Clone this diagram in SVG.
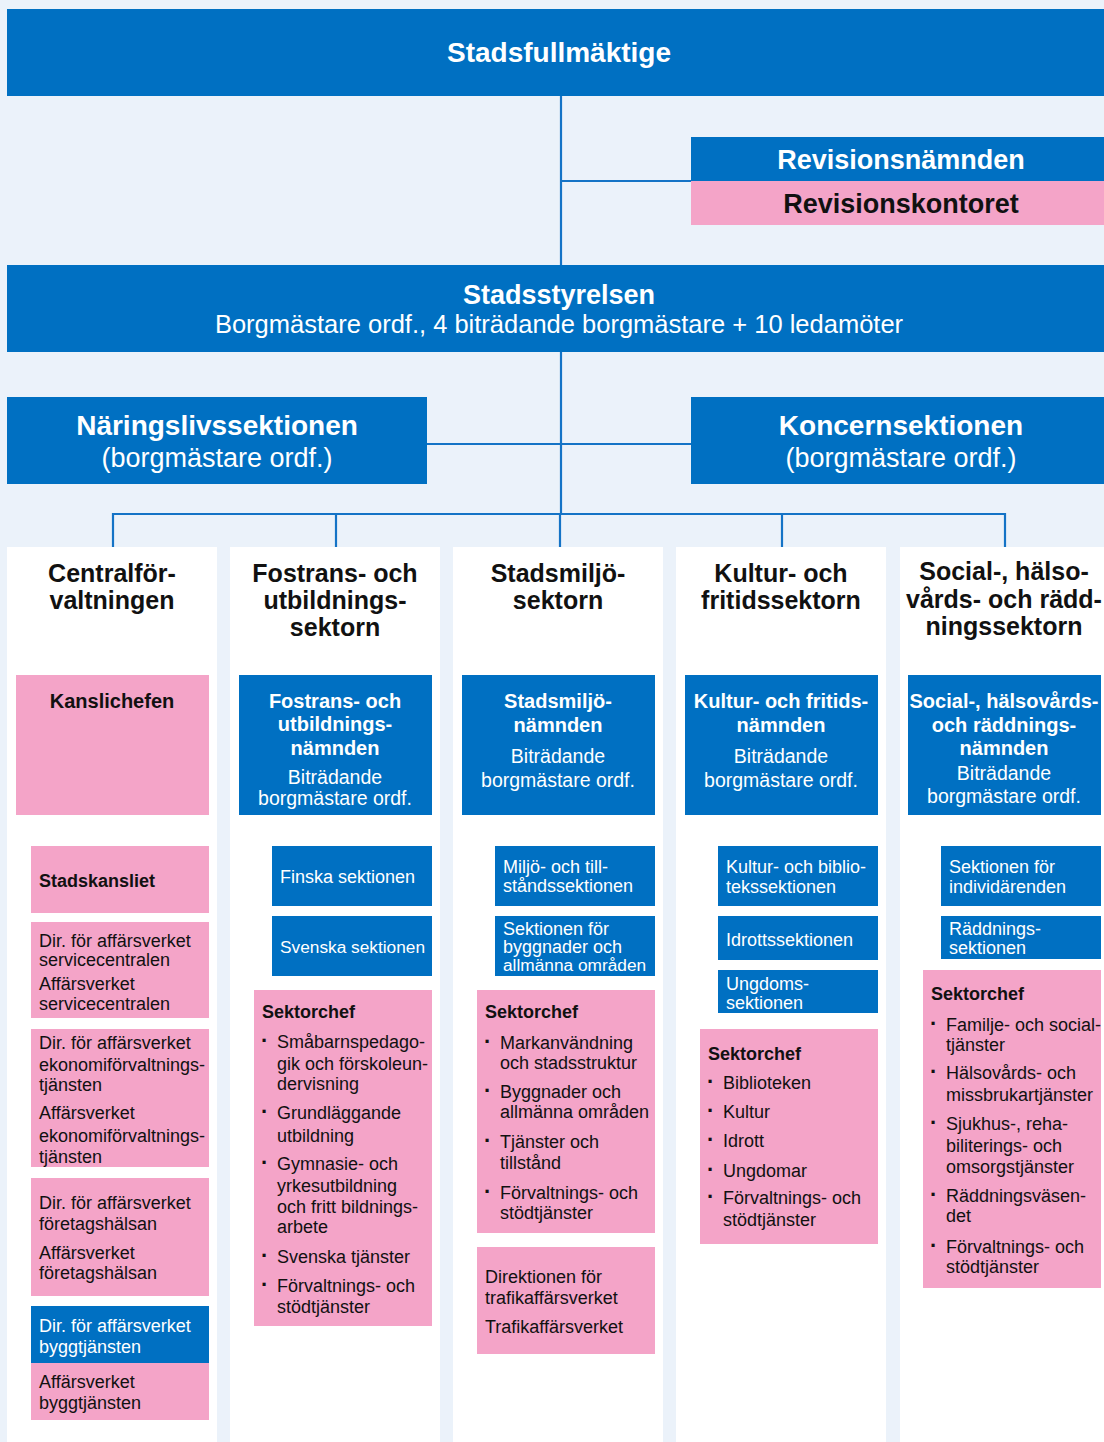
<svg xmlns="http://www.w3.org/2000/svg" width="1104" height="1442" viewBox="0 0 1104 1442">
<style>
text{font-family:"Liberation Sans",Arial,sans-serif}
.blue{fill:#0070C2}
.pink{fill:#F4A4C8}
.panel{fill:#FFFFFF}
.w{fill:#FFFFFF}
.k{fill:#111111}
.b{font-weight:bold}
.c{text-anchor:middle}
.h1{font-size:27px}
.h2{font-size:28px}
.ct{font-size:25px;font-weight:bold;fill:#111111;text-anchor:middle}
.nb{font-size:20px;font-weight:bold;fill:#FFFFFF;text-anchor:middle}
.nr{font-size:19.5px;fill:#FFFFFF;text-anchor:middle}
.t{font-size:18px}
.sb{font-size:18px;font-weight:bold;fill:#111111}
.dot{font-size:22px;font-weight:bold}
.conn{fill:none;stroke:#1473C6;stroke-width:2.2}
</style>
<rect x="0" y="0" width="1104" height="1442" fill="#EBF2FA"/>

<g id="connectors" class="conn">
<path d="M561 96 V265 M561 181 H691 M561 352 V514 M427 444 H691 M113 547 V514 H1005 V547 M336 514 V547 M560 514 V547 M782 514 V547"/>
<path d="M17 815 V1363 H31 M17 880 H31 M17 971 H31 M17 1088 H31 M17 1237 H31"/>
<path d="M241 815 V1021 H254 M258 815 V945 H272 M258 876 H272"/>
<path d="M463 815 V1295 H477 M463 1021 H477 M481 815 V945 H495 M481 874 H495"/>
<path d="M687 815 V1057 H700 M706 815 V992 H718 M706 874 H718 M706 937 H718"/>
<path d="M909 815 V990 H923 M929 815 V937 H941 M929 874 H941"/>
</g>

<g id="stadsfullmaktige">
<rect class="blue" x="7" y="9" width="1097" height="87"/>
<text class="w b c" x="559" y="62" font-size="28">Stadsfullmäktige</text>
</g>
<g id="revisionsnamnden">
<rect class="blue" x="691" y="137" width="413" height="44"/>
<text class="w b h1 c" x="901" y="169">Revisionsnämnden</text>
</g>
<g id="revisionskontoret">
<rect class="pink" x="691" y="181" width="413" height="44"/>
<text class="k b h1 c" x="901" y="213">Revisionskontoret</text>
</g>
<g id="stadsstyrelsen">
<rect class="blue" x="7" y="265" width="1097" height="87"/>
<text class="w b h1 c" x="559" y="304">Stadsstyrelsen</text>
<text class="w c" x="559" y="333" font-size="25.5">Borgmästare ordf., 4 biträdande borgmästare + 10 ledamöter</text>
</g>
<g id="naringslivssektionen">
<rect class="blue" x="7" y="397" width="420" height="87"/>
<text class="w b h2 c" x="217" y="435">Näringslivssektionen</text>
<text class="w c" x="217" y="467" font-size="27">(borgmästare ordf.)</text>
</g>
<g id="koncernsektionen">
<rect class="blue" x="691" y="397" width="413" height="87"/>
<text class="w b h2 c" x="901" y="435">Koncernsektionen</text>
<text class="w c" x="901" y="467" font-size="27">(borgmästare ordf.)</text>
</g>

<!-- Column 1 -->
<g id="col-centralforvaltningen">
<rect class="panel" x="7" y="547" width="210" height="895"/>
<text class="ct" x="112" y="582">Centralför-</text>
<text class="ct" x="112" y="609">valtningen</text>
</g>
<g id="kanslichefen">
<rect class="pink" x="16" y="675" width="193" height="140"/>
<text class="k b c" x="112" y="708" font-size="20">Kanslichefen</text>
</g>
<g id="stadskansliet">
<rect class="pink" x="31" y="846" width="178" height="67"/>
<text class="sb" x="39" y="887">Stadskansliet</text>
</g>
<g id="servicecentralen">
<rect class="pink" x="31" y="922" width="178" height="96"/>
<text class="k t" x="39" y="947">Dir. för affärsverket</text>
<text class="k t" x="39" y="966">servicecentralen</text>
<text class="k t" x="39" y="990">Affärsverket</text>
<text class="k t" x="39" y="1010">servicecentralen</text>
</g>
<g id="ekonomiforvaltningstjansten">
<rect class="pink" x="31" y="1029" width="178" height="138"/>
<text class="k t" x="39" y="1049">Dir. för affärsverket</text>
<text class="k t" x="39" y="1071">ekonomiförvaltnings-</text>
<text class="k t" x="39" y="1091">tjänsten</text>
<text class="k t" x="39" y="1119">Affärsverket</text>
<text class="k t" x="39" y="1142">ekonomiförvaltnings-</text>
<text class="k t" x="39" y="1163">tjänsten</text>
</g>
<g id="foretagshalsan">
<rect class="pink" x="31" y="1178" width="178" height="118"/>
<text class="k t" x="39" y="1209">Dir. för affärsverket</text>
<text class="k t" x="39" y="1230">företagshälsan</text>
<text class="k t" x="39" y="1259">Affärsverket</text>
<text class="k t" x="39" y="1279">företagshälsan</text>
</g>
<g id="dir-byggtjansten">
<rect class="blue" x="31" y="1306" width="178" height="57"/>
<text class="w t" x="39" y="1332">Dir. för affärsverket</text>
<text class="w t" x="39" y="1353">byggtjänsten</text>
</g>
<g id="byggtjansten">
<rect class="pink" x="31" y="1363" width="178" height="57"/>
<text class="k t" x="39" y="1388">Affärsverket</text>
<text class="k t" x="39" y="1409">byggtjänsten</text>
</g>

<!-- Column 2 -->
<g id="col-fostrans">
<rect class="panel" x="230" y="547" width="210" height="895"/>
<text class="ct" x="335" y="582">Fostrans- och</text>
<text class="ct" x="335" y="609">utbildnings-</text>
<text class="ct" x="335" y="636">sektorn</text>
</g>
<g id="fostrans-namnden">
<rect class="blue" x="239" y="675" width="193" height="140"/>
<text class="nb" x="335" y="708">Fostrans- och</text>
<text class="nb" x="335" y="731">utbildnings-</text>
<text class="nb" x="335" y="755">nämnden</text>
<text class="nr" x="335" y="784">Biträdande</text>
<text class="nr" x="335" y="805">borgmästare ordf.</text>
</g>
<g id="finska-sektionen">
<rect class="blue" x="272" y="846" width="160" height="60"/>
<text class="w t" x="280" y="883">Finska sektionen</text>
</g>
<g id="svenska-sektionen">
<rect class="blue" x="272" y="916" width="160" height="60"/>
<text class="w" x="280" y="953" font-size="17.3">Svenska sektionen</text>
</g>
<g id="sektorchef-fostrans">
<rect class="pink" x="254" y="990" width="178" height="336"/>
<text class="sb" x="262" y="1018">Sektorchef</text>
<g class="k t">
<text class="dot" x="261" y="1048">·</text><text x="277" y="1048">Småbarnspedago-</text>
<text x="277" y="1070">gik och förskoleun-</text>
<text x="277" y="1090">dervisning</text>
<text class="dot" x="261" y="1119">·</text><text x="277" y="1119">Grundläggande</text>
<text x="277" y="1142">utbildning</text>
<text class="dot" x="261" y="1170">·</text><text x="277" y="1170">Gymnasie- och</text>
<text x="277" y="1192">yrkesutbildning</text>
<text x="277" y="1213">och fritt bildnings-</text>
<text x="277" y="1233">arbete</text>
<text class="dot" x="261" y="1263">·</text><text x="277" y="1263">Svenska tjänster</text>
<text class="dot" x="261" y="1292">·</text><text x="277" y="1292">Förvaltnings- och</text>
<text x="277" y="1313">stödtjänster</text>
</g>
</g>

<!-- Column 3 -->
<g id="col-stadsmiljo">
<rect class="panel" x="453" y="547" width="210" height="895"/>
<text class="ct" x="558" y="582">Stadsmiljö-</text>
<text class="ct" x="558" y="609">sektorn</text>
</g>
<g id="stadsmiljo-namnden">
<rect class="blue" x="462" y="675" width="193" height="140"/>
<text class="nb" x="558" y="708">Stadsmiljö-</text>
<text class="nb" x="558" y="732">nämnden</text>
<text class="nr" x="558" y="763">Biträdande</text>
<text class="nr" x="558" y="787">borgmästare ordf.</text>
</g>
<g id="miljo-tillstand">
<rect class="blue" x="495" y="846" width="160" height="60"/>
<text class="w t" x="503" y="873">Miljö- och till-</text>
<text class="w t" x="503" y="892">ståndssektionen</text>
</g>
<g id="byggnader-sektionen">
<rect class="blue" x="495" y="916" width="160" height="60"/>
<text class="w t" x="503" y="935">Sektionen för</text>
<text class="w t" x="503" y="953">byggnader och</text>
<text class="w" x="503" y="971" font-size="17.3">allmänna områden</text>
</g>
<g id="sektorchef-stadsmiljo">
<rect class="pink" x="477" y="990" width="178" height="243"/>
<text class="sb" x="485" y="1018">Sektorchef</text>
<g class="k t">
<text class="dot" x="484" y="1049">·</text><text x="500" y="1049">Markanvändning</text>
<text x="500" y="1069">och stadsstruktur</text>
<text class="dot" x="484" y="1098">·</text><text x="500" y="1098">Byggnader och</text>
<text x="500" y="1118">allmänna områden</text>
<text class="dot" x="484" y="1148">·</text><text x="500" y="1148">Tjänster och</text>
<text x="500" y="1169">tillstånd</text>
<text class="dot" x="484" y="1199">·</text><text x="500" y="1199">Förvaltnings- och</text>
<text x="500" y="1219">stödtjänster</text>
</g>
</g>
<g id="trafikaffarsverket">
<rect class="pink" x="477" y="1247" width="178" height="107"/>
<text class="k t" x="485" y="1283">Direktionen för</text>
<text class="k t" x="485" y="1304">trafikaffärsverket</text>
<text class="k t" x="485" y="1333">Trafikaffärsverket</text>
</g>

<!-- Column 4 -->
<g id="col-kultur">
<rect class="panel" x="676" y="547" width="210" height="895"/>
<text class="ct" x="781" y="582">Kultur- och</text>
<text class="ct" x="781" y="609">fritidssektorn</text>
</g>
<g id="kultur-namnden">
<rect class="blue" x="685" y="675" width="193" height="140"/>
<text class="nb" x="781" y="708">Kultur- och fritids-</text>
<text class="nb" x="781" y="732">nämnden</text>
<text class="nr" x="781" y="763">Biträdande</text>
<text class="nr" x="781" y="787">borgmästare ordf.</text>
</g>
<g id="kultur-biblio">
<rect class="blue" x="718" y="846" width="160" height="60"/>
<text class="w t" x="726" y="873">Kultur- och biblio-</text>
<text class="w t" x="726" y="893">tekssektionen</text>
</g>
<g id="idrottssektionen">
<rect class="blue" x="718" y="916" width="160" height="44"/>
<text class="w t" x="726" y="946">Idrottssektionen</text>
</g>
<g id="ungdomssektionen">
<rect class="blue" x="718" y="970" width="160" height="43"/>
<text class="w t" x="726" y="990">Ungdoms-</text>
<text class="w t" x="726" y="1009">sektionen</text>
</g>
<g id="sektorchef-kultur">
<rect class="pink" x="700" y="1029" width="178" height="215"/>
<text class="sb" x="708" y="1060">Sektorchef</text>
<g class="k t">
<text class="dot" x="707" y="1089">·</text><text x="723" y="1089">Biblioteken</text>
<text class="dot" x="707" y="1118">·</text><text x="723" y="1118">Kultur</text>
<text class="dot" x="707" y="1147">·</text><text x="723" y="1147">Idrott</text>
<text class="dot" x="707" y="1177">·</text><text x="723" y="1177">Ungdomar</text>
<text class="dot" x="707" y="1204">·</text><text x="723" y="1204">Förvaltnings- och</text>
<text x="723" y="1226">stödtjänster</text>
</g>
</g>

<!-- Column 5 -->
<g id="col-social">
<rect class="panel" x="900" y="547" width="204" height="895"/>
<text class="ct" x="1004" y="580">Social-, hälso-</text>
<text class="ct" x="1004" y="608">vårds- och rädd-</text>
<text class="ct" x="1004" y="635">ningssektorn</text>
</g>
<g id="social-namnden">
<rect class="blue" x="908" y="675" width="193" height="140"/>
<text class="nb" x="1004" y="708">Social-, hälsovårds-</text>
<text class="nb" x="1004" y="732">och räddnings-</text>
<text class="nb" x="1004" y="755">nämnden</text>
<text class="nr" x="1004" y="780">Biträdande</text>
<text class="nr" x="1004" y="803">borgmästare ordf.</text>
</g>
<g id="individarenden">
<rect class="blue" x="941" y="846" width="160" height="60"/>
<text class="w t" x="949" y="873">Sektionen för</text>
<text class="w t" x="949" y="893">individärenden</text>
</g>
<g id="raddningssektionen">
<rect class="blue" x="941" y="916" width="160" height="43"/>
<text class="w t" x="949" y="935">Räddnings-</text>
<text class="w t" x="949" y="954">sektionen</text>
</g>
<g id="sektorchef-social">
<rect class="pink" x="923" y="970" width="178" height="318"/>
<text class="sb" x="931" y="1000">Sektorchef</text>
<g class="k t">
<text class="dot" x="930" y="1031">·</text><text x="946" y="1031">Familje- och social-</text>
<text x="946" y="1051">tjänster</text>
<text class="dot" x="930" y="1079">·</text><text x="946" y="1079">Hälsovårds- och</text>
<text x="946" y="1101">missbrukartjänster</text>
<text class="dot" x="930" y="1130">·</text><text x="946" y="1130">Sjukhus-, reha-</text>
<text x="946" y="1152">biliterings- och</text>
<text x="946" y="1173">omsorgstjänster</text>
<text class="dot" x="930" y="1202">·</text><text x="946" y="1202">Räddningsväsen-</text>
<text x="946" y="1222">det</text>
<text class="dot" x="930" y="1253">·</text><text x="946" y="1253">Förvaltnings- och</text>
<text x="946" y="1273">stödtjänster</text>
</g>
</g>
</svg>
